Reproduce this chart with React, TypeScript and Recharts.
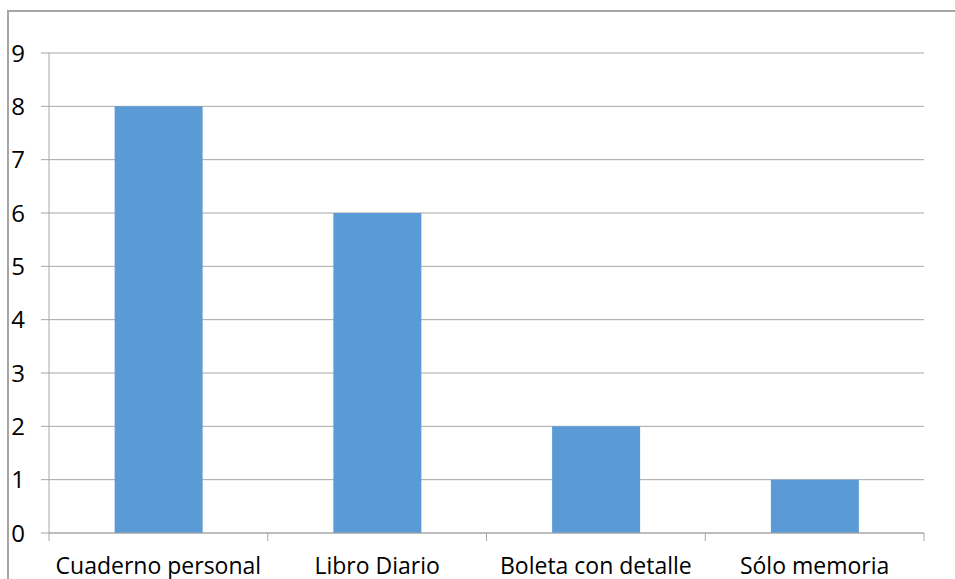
import React from 'react'
import { BarChart, Bar, XAxis, YAxis, CartesianGrid } from 'recharts'

const categories = ['Cuaderno personal', 'Libro Diario', 'Boleta con detalle', 'Sólo memoria']
const counts = [8, 6, 2, 1]
const yTicks = [0, 1, 2, 3, 4, 5, 6, 7, 8, 9]

const data = categories.map((name, i) => ({ name, value: counts[i] }))

const AXIS_GRAY = '#a6a6a6'
const BAR_BLUE = '#5b9bd5'
const FONT = '"Open Sans", "Liberation Sans", sans-serif'
const TICK_SIZE = 8
const TICK_MARGIN = 18

// category label centred in its band, with the tick marks on the band edges
const CategoryTick = (props: any) => {
  const { x, y, payload, index, width, visibleTicksCount } = props
  const band = width / visibleTicksCount
  const half = band / 2
  const axisY = y - TICK_SIZE - TICK_MARGIN
  return (
    <g>
      <line x1={x - half} x2={x - half} y1={axisY} y2={axisY + TICK_SIZE} stroke={AXIS_GRAY} />
      {index === visibleTicksCount - 1 && (
        <line x1={x + half} x2={x + half} y1={axisY} y2={axisY + TICK_SIZE} stroke={AXIS_GRAY} />
      )}
      <text x={x} y={axisY + 41} textAnchor="middle" fill="#000" fontSize={23} fontFamily={FONT}>
        {payload.value}
      </text>
    </g>
  )
}

export default function App() {
  return (
    <div style={{ position: 'absolute', left: 0, top: 0, width: 955, height: 579, overflow: 'hidden', background: '#fff' }}>
      <div
        style={{
          position: 'absolute',
          left: 7,
          top: 10,
          width: 1000,
          height: 700,
          borderLeft: `2px solid ${AXIS_GRAY}`,
          borderTop: `2px solid ${AXIS_GRAY}`,
        }}
      />
      <div style={{ position: 'absolute', left: 0, top: 0 }}>
        <BarChart
          width={955}
          height={579}
          data={data}
          margin={{ top: 53, right: 31, bottom: 0, left: 0 }}
          barCategoryGap="30%"
        >
          <CartesianGrid vertical={false} stroke={AXIS_GRAY} />
          <XAxis
            dataKey="name"
            height={46}
            axisLine={{ stroke: AXIS_GRAY }}
            tickLine={false}
            tickSize={TICK_SIZE}
            tickMargin={TICK_MARGIN}
            interval={0}
            tick={<CategoryTick />}
          />
          <YAxis
            width={49}
            domain={[0, 9]}
            ticks={yTicks}
            interval={0}
            axisLine={{ stroke: AXIS_GRAY }}
            tickLine={{ stroke: AXIS_GRAY }}
            tickSize={TICK_SIZE}
            tickMargin={16}
            tick={{ fill: '#000', fontSize: 24, fontFamily: FONT }}
          />
          <Bar dataKey="value" fill={BAR_BLUE} isAnimationActive={false} />
        </BarChart>
      </div>
    </div>
  )
}
